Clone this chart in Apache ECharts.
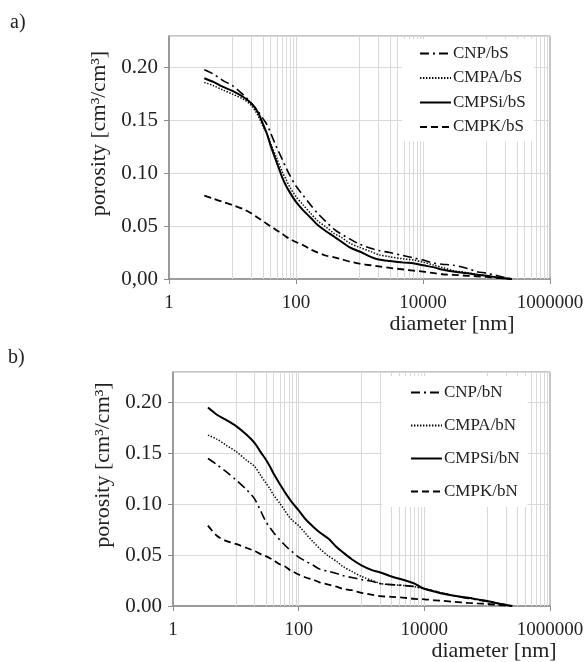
<!DOCTYPE html>
<html>
<head>
<meta charset="utf-8">
<script src="https://cdn.jsdelivr.net/npm/echarts@6/dist/echarts.min.js"></script>
<style>
	html, body { margin: 0; padding: 0; background: #fff; }
	#main { width: 587px; height: 662px; }
</style>
</head>
<body>
<div id="main"></div>
<script>
// pore diameters [nm] at which the curves were read
const diameters = [3.6, 5, 7, 10, 15, 20, 25, 30, 35, 40, 50, 60, 70, 80, 100, 130, 170, 220, 300, 400, 500, 700,
	1000, 1500, 2000, 3000, 5000, 7000, 10000, 15000, 20000, 30000, 50000, 70000, 100000, 150000, 250000];

// a) bS
const cnpBS = [0.198, 0.194, 0.188, 0.183, 0.174, 0.166, 0.159, 0.152, 0.146, 0.138, 0.124, 0.114, 0.105, 0.098, 0.088,
	0.079, 0.070, 0.062, 0.054, 0.047, 0.043, 0.038, 0.033, 0.029, 0.027, 0.025, 0.022, 0.020, 0.018, 0.015, 0.014,
	0.013, 0.010, 0.007, 0.0055, 0.003, 0];
const cmpaBS = [0.186, 0.183, 0.179, 0.175, 0.170, 0.164, 0.155, 0.145, 0.137, 0.128, 0.114, 0.102, 0.094, 0.087, 0.078,
	0.070, 0.062, 0.055, 0.049, 0.043, 0.040, 0.034, 0.030, 0.026, 0.023, 0.021, 0.019, 0.018, 0.016, 0.013, 0.011,
	0.008, 0.006, 0.0045, 0.003, 0.0015, 0];
const cmpsiBS = [0.190, 0.1865, 0.182, 0.178, 0.172, 0.166, 0.158, 0.147, 0.137, 0.126, 0.110, 0.097, 0.088, 0.082, 0.073,
	0.065, 0.058, 0.051, 0.045, 0.040, 0.036, 0.030, 0.026, 0.021, 0.0185, 0.017, 0.0155, 0.015, 0.013, 0.011, 0.009,
	0.007, 0.0055, 0.004, 0.003, 0.0015, 0];
const cmpkBS = [0.079, 0.076, 0.073, 0.070, 0.066, 0.062, 0.058, 0.055, 0.052, 0.050, 0.046, 0.043, 0.040, 0.038, 0.035,
	0.032, 0.028, 0.025, 0.022, 0.0205, 0.019, 0.0165, 0.0145, 0.013, 0.012, 0.0105, 0.009, 0.008, 0.007, 0.0055, 0.0045,
	0.004, 0.003, 0.0025, 0.002, 0.001, 0];

// b) bN
const cnpBN = [0.145, 0.139, 0.132, 0.124, 0.114, 0.105, 0.093, 0.083, 0.077, 0.072, 0.065, 0.060, 0.056, 0.053, 0.048,
	0.044, 0.040, 0.036, 0.034, 0.032, 0.030, 0.028, 0.026, 0.024, 0.022, 0.021, 0.020, 0.019, 0.017, 0.0145, 0.0125,
	0.010, 0.0075, 0.006, 0.0045, 0.0025, 0];
const cmpaBN = [0.168, 0.164, 0.158, 0.152, 0.143, 0.137, 0.128, 0.121, 0.115, 0.109, 0.101, 0.094, 0.088, 0.084, 0.079,
	0.071, 0.063, 0.056, 0.049, 0.044, 0.039, 0.034, 0.029, 0.025, 0.022, 0.021, 0.020, 0.019, 0.017, 0.0145, 0.0125,
	0.010, 0.008, 0.0065, 0.0045, 0.0025, 0];
const cmpsiBN = [0.195, 0.188, 0.183, 0.177, 0.168, 0.160, 0.151, 0.144, 0.137, 0.130, 0.120, 0.112, 0.106, 0.101, 0.094,
	0.085, 0.078, 0.072, 0.066, 0.058, 0.053, 0.046, 0.040, 0.035, 0.033, 0.029, 0.025, 0.022, 0.017, 0.014, 0.012,
	0.010, 0.008, 0.0065, 0.005, 0.0025, 0];
const cmpkBN = [0.079, 0.069, 0.064, 0.061, 0.057, 0.054, 0.051, 0.049, 0.047, 0.045, 0.041, 0.039, 0.036, 0.034, 0.031,
	0.028, 0.026, 0.023, 0.021, 0.019, 0.017, 0.0155, 0.013, 0.011, 0.0097, 0.009, 0.008, 0.007, 0.0066, 0.0055, 0.005,
	0.004, 0.003, 0.0025, 0.002, 0.001, 0];

// vertical grid lines of the log axis
const xGridValues = [10, 20, 30, 40, 50, 60, 70, 80, 90, 100, 1000, 2000, 3000, 4000, 5000, 6000, 7000, 8000, 9000, 10000,
	100000, 200000, 300000, 400000, 500000, 600000, 700000, 800000, 900000];

const legendA = ['CNP/bS', 'CMPA/bS', 'CMPSi/bS', 'CMPK/bS'];
const legendB = ['CNP/bN', 'CMPA/bN', 'CMPSi/bN', 'CMPK/bN'];

const FONT = "'Liberation Serif', 'DejaVu Serif', serif";
const AXIS_GREY = '#8c8c8c';
const GRID_GREY = '#d9d9d9';

const lineTypes = [
	{ type: [9, 4, 2, 4], width: 1.6 },
	{ type: [1.4, 1.6], width: 1.5 },
	{ type: 'solid', width: 2 },
	{ type: [7, 4], width: 1.8 }
];

const toPairs = values => diameters.map((d, i) => [d, values[i]]);

const makeSeries = (names, sets, idx) =>
	names.map((name, i) => ({
		name,
		type: 'line',
		xAxisIndex: idx,
		yAxisIndex: idx,
		data: toPairs(sets[i]),
		smooth: 0.3,
		symbol: 'none',
		showSymbol: false,
		color: '#000',
		z: 3,
		lineStyle: { color: '#000', type: lineTypes[i].type, width: lineTypes[i].width }
	}));

const gridSeries = idx => ({
	name: 'grid' + idx,
	type: 'line',
	xAxisIndex: idx,
	yAxisIndex: idx,
	data: [],
	silent: true,
	markLine: {
		silent: true,
		z: 1,
		symbol: ['none', 'none'],
		label: { show: false },
		lineStyle: { color: GRID_GREY, type: 'solid', width: 1 },
		data: xGridValues.map(v => ({ xAxis: v }))
	}
});

const xAxisCfg = idx => ({
	type: 'log',
	gridIndex: idx,
	logBase: 10,
	min: 1,
	max: 1000000,
	interval: 2,
	name: 'diameter [nm]',
	nameLocation: 'end',
	nameGap: idx === 0 ? -98 : -56,
	nameTextStyle: { fontFamily: FONT, fontSize: 22, color: '#222', align: 'center', verticalAlign: 'top', padding: [34, 0, 0, 0] },
	axisLine: { lineStyle: { color: AXIS_GREY, width: 1.5 } },
	axisTick: { show: true, inside: false, length: 5, lineStyle: { color: AXIS_GREY } },
	minorTick: { show: false },
	axisLabel: {
		fontFamily: FONT,
		fontSize: 19,
		color: '#222',
		margin: 15,
		formatter: v => String(Math.round(v))
	},
	splitLine: { show: false }
});

const yAxisCfg = idx => ({
	type: 'value',
	gridIndex: idx,
	min: 0,
	max: 0.23,
	interval: 0.05,
	name: 'porosity [cm³/cm³]',
	nameLocation: 'middle',
	nameGap: 44,
	nameTextStyle: { fontFamily: FONT, fontSize: 22, color: '#222', padding: [0, 0, 0, 48] },
	axisLine: { show: true, lineStyle: { color: AXIS_GREY, width: 1.5 } },
	axisTick: { show: true, length: 5, lineStyle: { color: AXIS_GREY } },
	axisLabel: {
		fontFamily: FONT,
		fontSize: 21,
		color: '#222',
		margin: 11,
		showMaxLabel: false,
		formatter: v => (v > 0.21 ? '' : idx === 0 && v === 0 ? '0,00' : v.toFixed(2))
	},
	splitLine: { show: true, lineStyle: { color: GRID_GREY, width: 1 } }
});

const legendCfg = (names, idx) => ({
	data: names,
	orient: 'vertical',
	left: idx === 0 ? 402 : 382,
	top: idx === 0 ? 39 : 376,
	width: idx === 0 ? 145 : 168,
	backgroundColor: '#fff',
	padding: idx === 0 ? [6, 8, 6, 17] : [8, 8, 7, 28],
	itemWidth: 31,
	itemHeight: 14,
	itemGap: idx === 0 ? 7.5 : 16,
	// hide the round symbol ECharts adds to line legend icons
	itemStyle: { color: 'transparent', borderColor: 'transparent', borderWidth: 0, opacity: 0 },
	textStyle: { fontFamily: FONT, fontSize: 17, color: '#222', padding: [0, 0, 0, -3] },
	selectedMode: false
});

const myChart = echarts.init(document.getElementById('main'), null, { renderer: 'canvas' });

const option = {
	animation: false,
	backgroundColor: '#fff',
	graphic: [
		{ type: 'text', left: 10, top: 13, style: { text: 'a)', font: "20px 'Liberation Serif'", fill: '#222' } },
		{ type: 'text', left: 8, top: 348, style: { text: 'b)', font: "20px 'Liberation Serif'", fill: '#222' } }
	],
	legend: [legendCfg(legendA, 0), legendCfg(legendB, 1)],
	grid: [
		{ left: 169, top: 36, width: 381, height: 243, show: true, borderColor: AXIS_GREY, borderWidth: 1 },
		{ left: 173, top: 372, width: 377, height: 237, show: true, borderColor: AXIS_GREY, borderWidth: 1 }
	],
	xAxis: [xAxisCfg(0), xAxisCfg(1)],
	yAxis: [yAxisCfg(0), yAxisCfg(1)],
	series: [
		gridSeries(0),
		gridSeries(1),
		...makeSeries(legendA, [cnpBS, cmpaBS, cmpsiBS, cmpkBS], 0),
		...makeSeries(legendB, [cnpBN, cmpaBN, cmpsiBN, cmpkBN], 1)
	]
};

myChart.setOption(option);
</script>
</body>
</html>
